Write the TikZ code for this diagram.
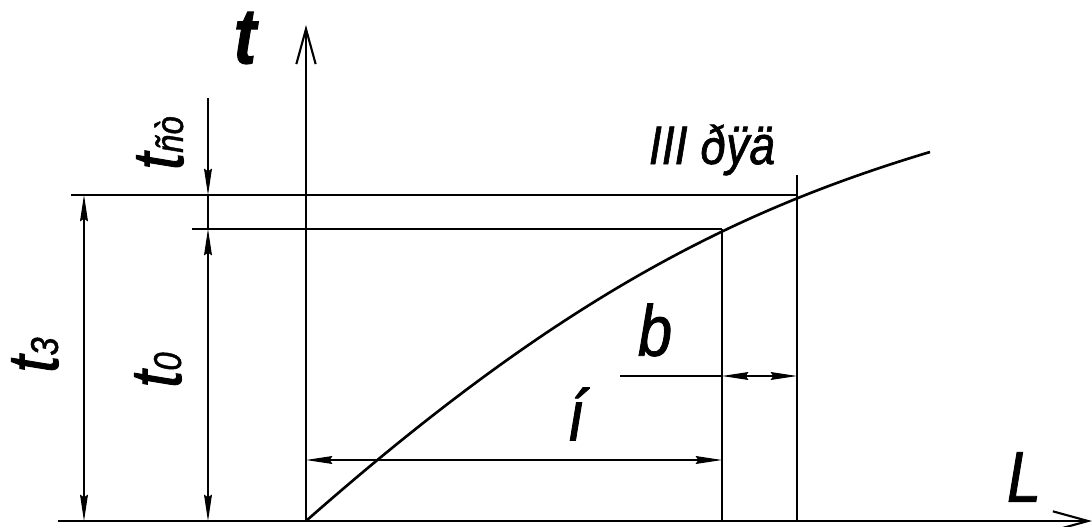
\documentclass[tikz,border=0pt]{standalone}
\usepackage{fontspec}
\setmainfont{Liberation Sans}[FakeStretch=0.85,FakeBold=1.2]
\usetikzlibrary{arrows.meta}
\newcommand\mysub[1]{{\fontsize{22pt}{24pt}\selectfont #1}}
\begin{document}
\begin{tikzpicture}[x=0.02cm,y=-0.02cm,
  thinline/.style={line width=0.6pt},
  axisline/.style={line width=1.6pt},
  curveline/.style={line width=1.5pt},
  dimtip/.tip={Stealth[length=15pt,width=4.5pt,inset=1.5pt]},
  axtip/.tip={Straight Barb[length=20pt,width=11pt,line width=1.2pt]},
  lbl/.style={font=\itshape\fontsize{41pt}{48pt}\selectfont, inner sep=0pt},
  smalllbl/.style={font=\itshape\fontsize{31pt}{36pt}\selectfont, inner sep=0pt}]
\useasboundingbox (0,0) rectangle (1092,527);
% key points
\coordinate (O) at (306,521);
\coordinate (Ttop) at (306,25);
\coordinate (Lend) at (1092,521);
\coordinate (Xstart) at (147,521);
\coordinate (ExtL) at (58,521);
\coordinate (A) at (722,229);
\coordinate (B) at (797,195);
\coordinate (E) at (930,152);
\coordinate (h1L) at (71,195);
\coordinate (h2L) at (192,229);
\coordinate (vBtop) at (797,175);
\coordinate (Abot) at (722,521);
\coordinate (Bbot) at (797,521);
\coordinate (d1top) at (84,195);
\coordinate (d1bot) at (84,521);
\coordinate (d2top) at (208,98);
\coordinate (d2a) at (208,195);
\coordinate (d2b) at (208,229);
\coordinate (d2bot) at (208,521);
\coordinate (n1) at (306,460);
\coordinate (n2) at (722,460);
\coordinate (b0) at (620,376);
\coordinate (b1) at (722,376);
\coordinate (b2) at (797,376);
% axes
\draw[thinline] (ExtL) -- (Xstart);
\draw[axisline,-axtip] (Xstart) -- (Lend);
\draw[axisline,-axtip] (O) -- (Ttop);
% curve
\draw[curveline] (O) .. controls (556,301) and (730,212) .. (E);
% extension lines
\draw[thinline] (h1L) -- (B);
\draw[thinline] (h2L) -- (A);
\draw[thinline] (A) -- (Abot);
\draw[thinline] (vBtop) -- (Bbot);
% dimension t3
\draw[thinline,dimtip-dimtip] (d1top) -- (d1bot);
% dimensions tst and t0
\draw[thinline,-dimtip] (d2top) -- (d2a);
\draw[thinline] (d2a) -- (d2b);
\draw[thinline,dimtip-dimtip] (d2b) -- (d2bot);
% dimension n
\draw[thinline,dimtip-dimtip] (n1) -- (n2);
% dimension b
\draw[thinline] (b0) -- (b1);
\draw[thinline,dimtip-dimtip] (b1) -- (b2);
% labels
\node[lbl,font=\bfseries\itshape\fontsize{45pt}{50pt}\selectfont] (tlab) at (245,38) {t};
\node[lbl] (Llab) at (1024,477) {L};
\node[lbl] (blab) at (655,330) {b};
\node[lbl] (nlab) at (576,414) {í};
\node[smalllbl] (row) at (712,150) {III ðÿä};
\node[lbl,rotate=90] (tst) at (160,143) {t\mysub{ñò}};
\node[lbl,rotate=90] (t3) at (35,355) {t\mysub{3}};
\node[lbl,rotate=90] (t0) at (158,370) {t\mysub{0}};
\end{tikzpicture}
\end{document}
